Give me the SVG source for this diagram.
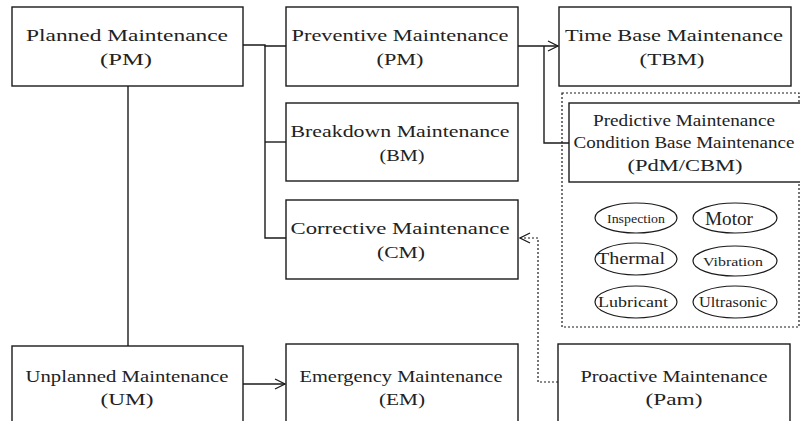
<svg xmlns="http://www.w3.org/2000/svg" width="800" height="421" viewBox="0 0 800 421">
<style>
.box{fill:#fff;stroke:#1a1a1a;stroke-width:1.4}
.t{font-family:"Liberation Serif","DejaVu Serif",serif;font-size:17.5px;fill:#222;text-anchor:middle}
.c{fill:none;stroke:#1a1a1a;stroke-width:1.4}
.d{fill:none;stroke:#1a1a1a;stroke-width:1.2;stroke-dasharray:2,2}
.e{fill:#fff;stroke:#1a1a1a;stroke-width:1.2}
</style>
<defs>
<marker id="arr" markerUnits="userSpaceOnUse" markerWidth="14" markerHeight="14" refX="11" refY="6" orient="auto">
<path d="M1,1 L11,6 L1,11" fill="none" stroke="#1a1a1a" stroke-width="1.3"/>
</marker>
</defs>
<g id="connectors">
<polyline class="c" points="243,45 265,45 265,46 286,46"/>
<polyline class="c" points="265,46 265,238 286,238"/>
<line class="c" x1="265" y1="142" x2="286" y2="142"/>
<line class="c" x1="518" y1="46" x2="558" y2="46" marker-end="url(#arr)"/>
<polyline class="c" points="544,46 544,143 569,143"/>
<line class="c" x1="128" y1="86" x2="128" y2="346"/>
<line class="c" x1="243" y1="384" x2="285" y2="384" marker-end="url(#arr)"/>
<polyline class="d" points="558,382 538,382 538,238 520,238" marker-end="url(#arr)"/>
</g>
<g id="planned"><rect class="box" x="12" y="7" width="231" height="79"/>
<text class="t" x="127" y="41" textLength="202" lengthAdjust="spacingAndGlyphs">Planned Maintenance</text>
<text class="t" x="126" y="65" textLength="52" lengthAdjust="spacingAndGlyphs">(PM)</text></g>
<g id="preventive"><rect class="box" x="286" y="7" width="232" height="79"/>
<text class="t" x="400" y="41" textLength="217" lengthAdjust="spacingAndGlyphs">Preventive Maintenance</text>
<text class="t" x="400" y="65" textLength="47" lengthAdjust="spacingAndGlyphs">(PM)</text></g>
<g id="breakdown"><rect class="box" x="286" y="103" width="232" height="78"/>
<text class="t" x="400" y="137" textLength="219" lengthAdjust="spacingAndGlyphs">Breakdown Maintenance</text>
<text class="t" x="402" y="161" textLength="45" lengthAdjust="spacingAndGlyphs">(BM)</text></g>
<g id="corrective"><rect class="box" x="286" y="200" width="232" height="79"/>
<text class="t" x="400" y="234" textLength="219" lengthAdjust="spacingAndGlyphs">Corrective Maintenance</text>
<text class="t" x="401" y="258" textLength="48" lengthAdjust="spacingAndGlyphs">(CM)</text></g>
<g id="tbm"><rect class="box" x="559" y="7" width="232" height="79"/>
<text class="t" x="674" y="41" textLength="218" lengthAdjust="spacingAndGlyphs">Time Base Maintenance</text>
<text class="t" x="672" y="65" textLength="65" lengthAdjust="spacingAndGlyphs">(TBM)</text></g>
<g id="pdm-group"><rect class="d" x="562" y="93" width="237" height="234"/></g>
<g id="pdm"><rect class="box" x="569" y="103" width="240" height="79"/>
<text class="t" x="684" y="126" textLength="182" lengthAdjust="spacingAndGlyphs">Predictive Maintenance</text>
<text class="t" x="684" y="148" textLength="221" lengthAdjust="spacingAndGlyphs">Condition Base Maintenance</text>
<text class="t" x="685" y="171" textLength="115" lengthAdjust="spacingAndGlyphs">(PdM/CBM)</text></g>
<g id="inspection"><ellipse class="e" cx="636" cy="218" rx="41" ry="15"/>
<text class="t" x="636" y="223" style="font-size:12px" textLength="58" lengthAdjust="spacingAndGlyphs">Inspection</text></g>
<g id="motor"><ellipse class="e" cx="735" cy="218" rx="42" ry="15"/>
<text class="t" x="729" y="225" style="font-size:18px" textLength="48" lengthAdjust="spacingAndGlyphs">Motor</text></g>
<g id="thermal"><ellipse class="e" cx="636" cy="259" rx="41" ry="16"/>
<text class="t" x="631" y="264" style="font-size:17px" textLength="68" lengthAdjust="spacingAndGlyphs">Thermal</text></g>
<g id="vibration"><ellipse class="e" cx="735" cy="261" rx="42" ry="15"/>
<text class="t" x="733" y="266" style="font-size:12px" textLength="60" lengthAdjust="spacingAndGlyphs">Vibration</text></g>
<g id="lubricant"><ellipse class="e" cx="636" cy="302" rx="41" ry="16"/>
<text class="t" x="633" y="307" style="font-size:14px" textLength="70" lengthAdjust="spacingAndGlyphs">Lubricant</text></g>
<g id="ultrasonic"><ellipse class="e" cx="735" cy="302" rx="42" ry="16"/>
<text class="t" x="733" y="307" style="font-size:14px" textLength="68" lengthAdjust="spacingAndGlyphs">Ultrasonic</text></g>
<g id="unplanned"><rect class="box" x="12" y="346" width="231" height="90"/>
<text class="t" x="127" y="382" textLength="203" lengthAdjust="spacingAndGlyphs">Unplanned Maintenance</text>
<text class="t" x="127" y="405" textLength="53" lengthAdjust="spacingAndGlyphs">(UM)</text></g>
<g id="emergency"><rect class="box" x="286" y="344" width="232" height="92"/>
<text class="t" x="401" y="382" textLength="203" lengthAdjust="spacingAndGlyphs">Emergency Maintenance</text>
<text class="t" x="402" y="405" textLength="46" lengthAdjust="spacingAndGlyphs">(EM)</text></g>
<g id="proactive"><rect class="box" x="558" y="344" width="232" height="92"/>
<text class="t" x="674" y="382" textLength="187" lengthAdjust="spacingAndGlyphs">Proactive Maintenance</text>
<text class="t" x="674" y="405" textLength="57" lengthAdjust="spacingAndGlyphs">(Pam)</text></g>
</svg>
